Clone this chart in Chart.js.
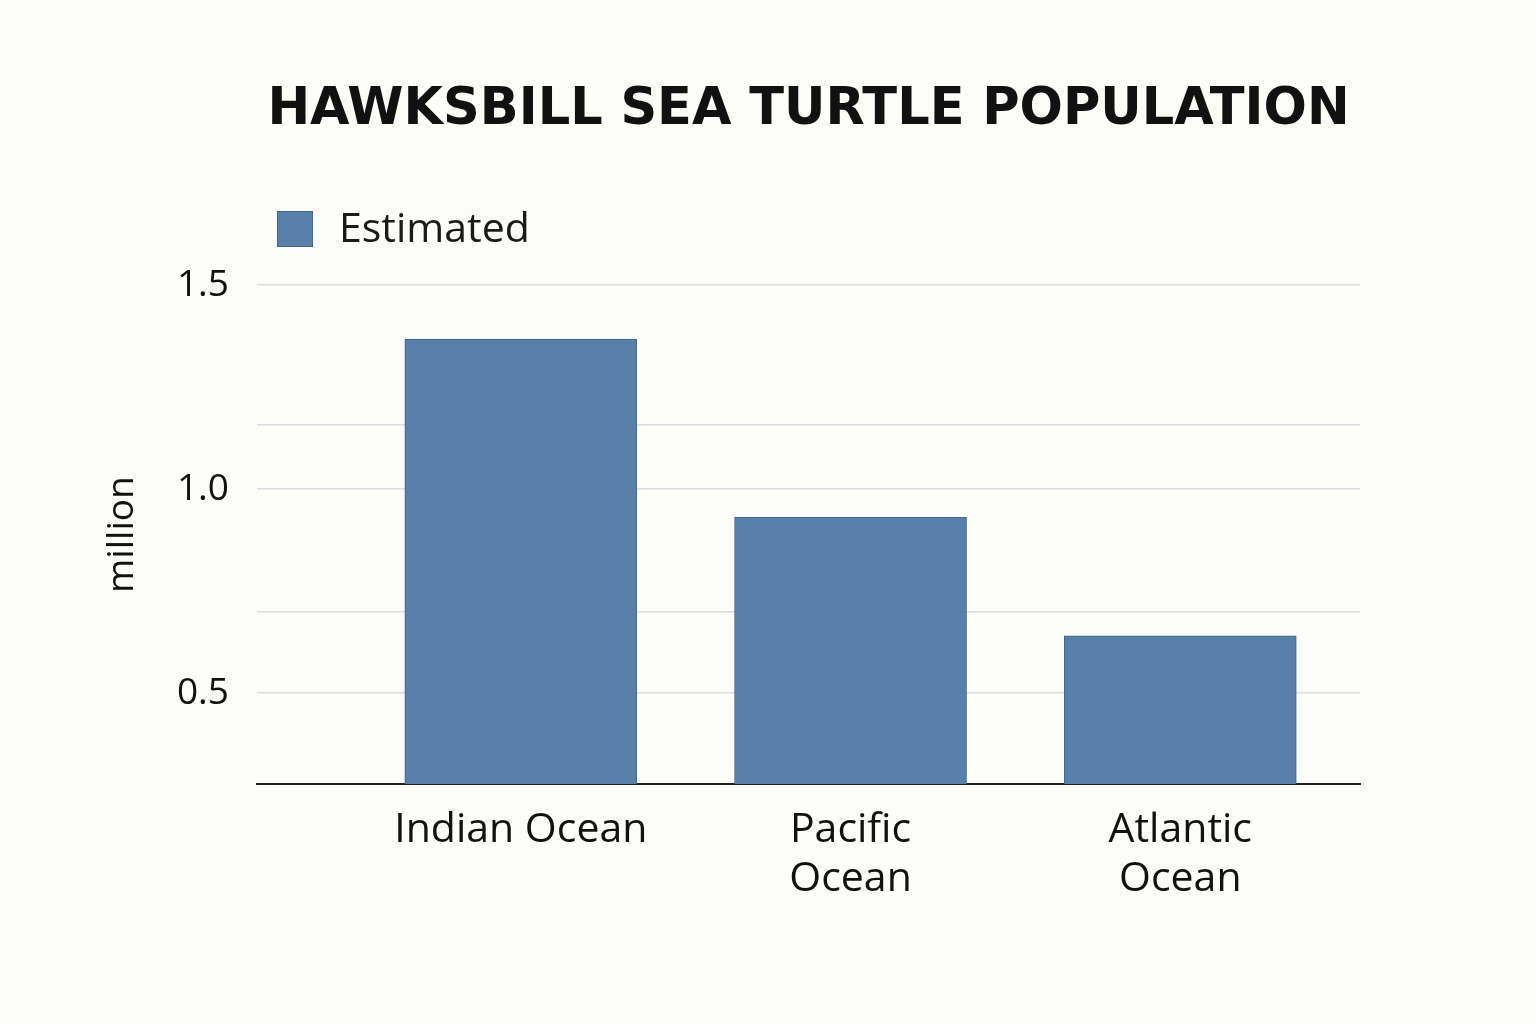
<!DOCTYPE html>
<html><head><meta charset="utf-8">
<script src="https://cdn.jsdelivr.net/npm/chart.js@4/dist/chart.umd.min.js"></script>
<style>html,body{margin:0;background:#fcfcf8}#w{width:1536px;height:1024px}</style>
</head><body><div id="w"><canvas id="c"></canvas></div>
<script>
const categories = [["Indian Ocean"], ["Pacific", "Ocean"], ["Atlantic", "Ocean"]];
const positions = [1, 2, 3];
const estimated = [1.368, 0.931, 0.640];
const gridValues = [0.277, 0.5, 0.699, 1.0, 1.159, 1.5];
const labeledTicks = [0.5, 1.0, 1.5];
const seriesName = "Estimated";
const barColor = "#587fa7";

const legendPlugin = {
  id: 'customLegend',
  afterDraw(chart) {
    const ctx = chart.ctx;
    ctx.save();
    ctx.fillStyle = barColor;
    ctx.fillRect(277, 211, 36, 36);
    ctx.strokeStyle = "#3f6791"; ctx.lineWidth = 1;
    ctx.strokeRect(277.5, 211.5, 35, 35);
    ctx.fillStyle = "#1a1a1a";
    ctx.font = "41px 'Open Sans'";
    ctx.textBaseline = "middle";
    ctx.fillText(seriesName, 339, 230);
    ctx.restore();
  }
};

new Chart(document.getElementById('c'), {
  type: 'bar',
  data: { datasets: [{
    label: seriesName,
    data: positions.map((p, i) => ({ x: p, y: estimated[i] })),
    backgroundColor: barColor, borderColor: "#3f6791", borderWidth: 1,
    barThickness: 232
  }]},
  options: {
    responsive: true, maintainAspectRatio: false, animation: false,
    layout: { padding: { left: 100, right: 176, top: 0, bottom: 0 } },
    plugins: {
      legend: { display: false },
      tooltip: { enabled: false },
      title: { display: true, fullSize: false, text: "HAWKSBILL SEA TURTLE POPULATION",
        color: "#111", font: { family: "'DejaVu Sans'", size: 51, weight: 'bold' },
        padding: { top: 80, bottom: 144 } }
    },
    scales: {
      x: {
        type: 'linear', min: 0.2, max: 3.545, offset: false, bounds: 'data',
        afterDataLimits(s) { s.min = 0.2; s.max = 3.545; },
        afterBuildTicks(s) { s.ticks = positions.map(v => ({ value: v })); },
        ticks: { callback: (v) => categories[positions.indexOf(v)] || '', color: "#111",
          font: { family: "'Open Sans'", size: 41 }, padding: 14, maxRotation: 0 },
        grid: { display: false, offset: false },
        border: { display: true, color: "#222", width: 2 },
        afterFit(s) { s.height = 240; }
      },
      y: {
        min: 0.277, max: 1.5,
        afterBuildTicks(s) { s.ticks = gridValues.map(v => ({ value: v })); },
        ticks: { callback: (v) => labeledTicks.includes(v) ? v.toFixed(1) : '', color: "#111",
          font: { family: "'Open Sans'", size: 37 }, padding: 28 },
        grid: { color: (c) => c.tick && c.tick.value === 0.277 ? 'rgba(0,0,0,0)' : "#d9dcdf", lineWidth: 1.5, drawTicks: false },
        border: { display: false },
        title: { display: true, text: "million", color: "#111", font: { family: "'Open Sans'", size: 37 }, padding: 0 },
        afterFit(s) { s.width = 157; }
      }
    }
  },
  plugins: [legendPlugin]
});
</script></body></html>
